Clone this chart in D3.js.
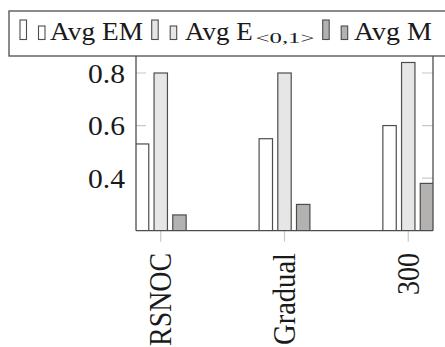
<!DOCTYPE html>
<html>
<head>
<meta charset="utf-8">
<script src="https://cdn.jsdelivr.net/npm/d3@7"></script>
<style>
  html, body { margin: 0; padding: 0; background: #fff; }
  svg { display: block; }
</style>
</head>
<body>
<svg id="chart" width="445" height="347"></svg>
<script>
// ---- data ----
const categories = ["RSNOC", "Gradual", "300"];
const seriesNames = ["Avg EM", "Avg E", "Avg M"];
const avgEM = [0.53, 0.55, 0.60];
const avgE01 = [0.80, 0.80, 0.84];
const avgM = [0.26, 0.30, 0.38];
const yTicks = [0.4, 0.6, 0.8];
const yTickLabels = ["0.4", "0.6", "0.8"];
const seriesFill = ["#ffffff", "#e6e6e6", "#b4b1b1"];

const seriesValues = [avgEM, avgE01, avgM];

const FONT = "\"Liberation Serif\", monospace";
const svg = d3.select("#chart");
const stroke = "#4d4d4d";
const textColor = "#1a1a1a";

const plotLeft = 136, plotRight = 433, plotBottom = 230.7, plotTop = 56;

const x = d3.scaleLinear().domain([-0.2, categories.length - 0.8]).range([plotLeft, plotRight]);
const y = d3.scaleLinear().domain([0.2, 0.8]).range([plotBottom, 73]);
const sub = d3.scaleBand().domain(d3.range(seriesNames.length)).range([-25.4, 25.4]).paddingInner(0.283);

// place a text so that it spans a given length, by scaling along its direction
function fitText(sel, target, baseTransform, anchorEnd, perp) {
  sel.each(function(d, i) {
    const el = d3.select(this);
    const w = this.getComputedTextLength();
    const t = typeof target === "function" ? target(d, i) : target;
    const k = t / w;
    const bt = typeof baseTransform === "function" ? baseTransform(d, i) : baseTransform;
    el.attr("transform", `${bt} scale(${k},${perp || 1})`);
  });
}

// clip for plot area
svg.append("defs").append("clipPath").attr("id", "clip")
  .append("rect").attr("x", plotLeft).attr("y", plotTop).attr("width", plotRight - plotLeft).attr("height", plotBottom - plotTop);

const plot = svg.append("g").attr("clip-path", "url(#clip)");

// y ticks inside (both sides)
const tickColor = "#c8c8c8";
plot.selectAll("line.ytl").data(yTicks).join("line")
  .attr("x1", plotLeft).attr("x2", plotLeft + 10)
  .attr("y1", d => y(d)).attr("y2", d => y(d))
  .attr("stroke", tickColor).attr("stroke-width", 1.2);
plot.selectAll("line.ytr").data(yTicks).join("line")
  .attr("x1", plotRight - 11).attr("x2", plotRight)
  .attr("y1", d => y(d)).attr("y2", d => y(d))
  .attr("stroke", tickColor).attr("stroke-width", 1.2);

// bars
seriesValues.forEach((vals, j) => {
  plot.selectAll(null).data(vals).join("rect")
    .attr("x", (d, i) => x(i) + sub(j))
    .attr("width", sub.bandwidth())
    .attr("y", d => y(d))
    .attr("height", d => y(0.2) - y(d))
    .attr("fill", seriesFill[j])
    .attr("stroke", stroke)
    .attr("stroke-width", 1.2);
});

// x ticks below axis
svg.selectAll("line.xt").data(categories).join("line")
  .attr("x1", (d, i) => x(i)).attr("x2", (d, i) => x(i))
  .attr("y1", plotBottom).attr("y2", plotBottom + 11)
  .attr("stroke", tickColor).attr("stroke-width", 1.2);

// axes frame (left, right, bottom)
svg.append("line").attr("x1", plotLeft).attr("x2", plotLeft).attr("y1", plotTop).attr("y2", plotBottom)
  .attr("stroke", stroke).attr("stroke-width", 1.3);
svg.append("line").attr("x1", plotRight).attr("x2", plotRight).attr("y1", plotTop).attr("y2", plotBottom)
  .attr("stroke", stroke).attr("stroke-width", 1.3);
svg.append("line").attr("x1", plotLeft).attr("x2", plotRight).attr("y1", plotBottom).attr("y2", plotBottom)
  .attr("stroke", stroke).attr("stroke-width", 1.3);

// y tick labels
const yl = svg.selectAll("text.yl").data(yTicks).join("text")
  .attr("text-anchor", "end")
  .style("font-family", FONT).style("font-size", "27px")
  .attr("fill", textColor)
  .text((d, i) => yTickLabels[i]);
fitText(yl, 37, d => `translate(125,${y(d) + 9.5})`);

// x tick labels (rotated)
const xLabelLen = [93, 92, 42];
const xl = svg.selectAll("text.xl").data(categories).join("text")
  .attr("text-anchor", "end")
  .style("font-family", FONT).style("font-size", "28px")
  .attr("fill", textColor)
  .text(d => d);
fitText(xl, (d, i) => xLabelLen[i], (d, i) => `translate(${x(i) + 10.5},253) rotate(-90)`, true, 1.15);

// legend
const lg = svg.append("g");
lg.append("rect").attr("x", 9).attr("y", 11).attr("width", 460).attr("height", 45)
  .attr("fill", "#fff").attr("stroke", stroke).attr("stroke-width", 1.3);

const legendX = [20, 151.7, 322.7];
const legendTextX = [50, 185, 354];
const legendTextLen = [93, 67.7, 78];
const legendText = ["Avg EM", "Avg E", "Avg M"];
seriesNames.forEach((name, j) => {
  lg.append("rect").attr("x", legendX[j]).attr("y", 20).attr("width", 6.5).attr("height", 19.5)
    .attr("fill", seriesFill[j]).attr("stroke", stroke).attr("stroke-width", 1.1);
  lg.append("rect").attr("x", legendX[j] + 18.5).attr("y", 26).attr("width", 6.5).attr("height", 13.5)
    .attr("fill", seriesFill[j]).attr("stroke", stroke).attr("stroke-width", 1.1);
  const t = lg.append("text")
    .style("font-family", FONT).style("font-size", "25px")
    .attr("fill", textColor)
    .text(legendText[j]);
  fitText(t, legendTextLen[j], `translate(${legendTextX[j]},40.3)`);
});
// subscript <0,1>
const subT = lg.append("text")
  .style("font-family", FONT).style("font-size", "15px")
  .attr("fill", textColor)
  .text("<0,1>");
fitText(subT, 59, "translate(255.5,43.3)");
</script>
</body>
</html>
